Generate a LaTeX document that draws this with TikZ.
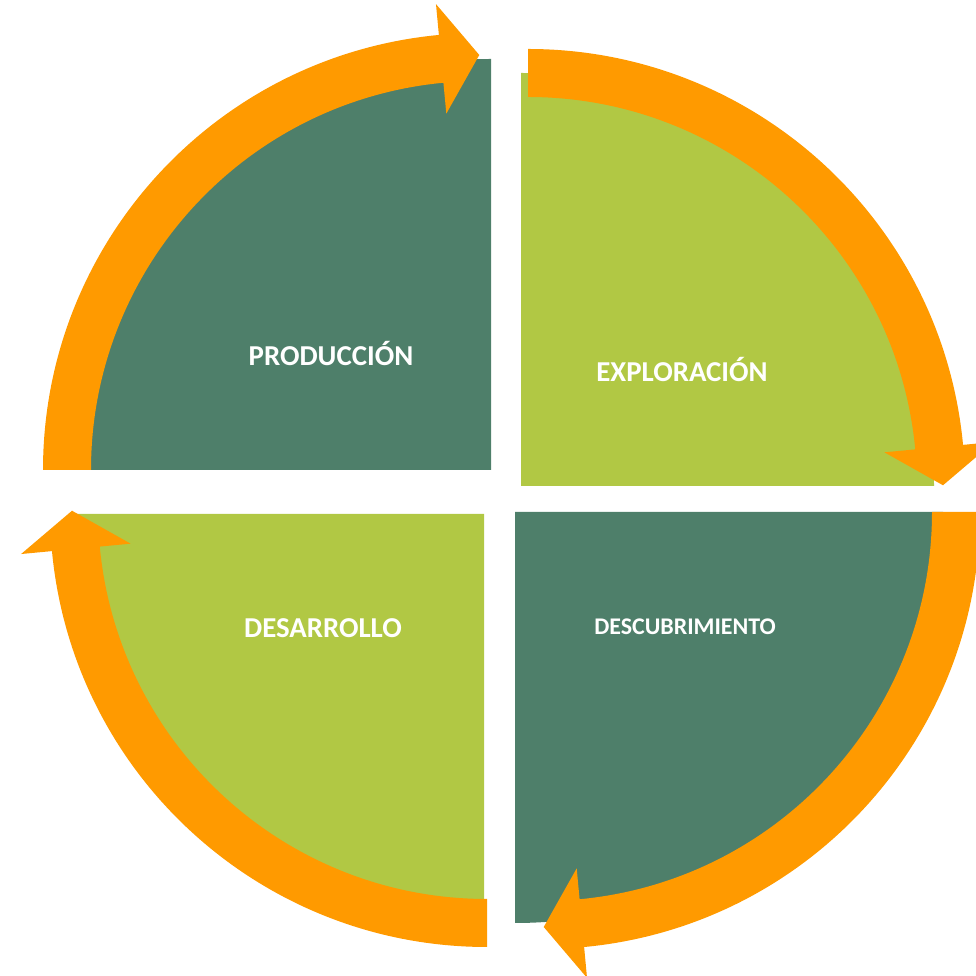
\documentclass[tikz,border=0pt]{standalone}
\usepackage{fontspec}
\setmainfont{Carlito}
\definecolor{darkleaf}{HTML}{4E7F6A}
\definecolor{lightleaf}{HTML}{B1C844}
\definecolor{cycorange}{HTML}{FF9A00}
\tikzset{
  quarter/.style={draw=none},
  loop/.style={fill=cycorange, draw=none},
  stage/.style={
    text=white,
    font=\bfseries\fontsize{8.2}{10}\selectfont
  }
}

\begin{document}
\begin{tikzpicture}[x=0.01cm, y=0.01cm]
  \useasboundingbox (0,0) rectangle (976,976);
  \clip (0,0) rectangle (976,976);

  % four quarters
  \fill[quarter, darkleaf]  (491,506) -- ++(180:411) arc[start angle=180, end angle=90, radius=411] -- cycle;
  \fill[quarter, lightleaf] (521,490) -- ++(90:413) arc[start angle=90, end angle=0, radius=413] -- cycle;
  \fill[quarter, darkleaf]  (515,464) -- ++(0:428) arc[start angle=0, end angle=-90, x radius=428, y radius=411] -- cycle;
  \fill[quarter, lightleaf] (484,462) -- ++(270:407) arc[start angle=270, end angle=180, radius=407] -- cycle;

  % orange arrows round the cycle
  \foreach \cx/\cy/\a in {480/506/180, 528/490/90, 543/464/0, 487/466/270}{
    \pgfmathsetmacro\b{\a-84.6}
    \pgfmathsetmacro\t{\a-89.9}
    \begin{scope}[shift={(\cx,\cy)}]
      \fill[loop] (\a:437) arc[start angle=\a, end angle=\b, radius=437]
        -- (\b:468) -- (\t:415) -- (\b:358) -- (\b:389)
        arc[start angle=\b, end angle=\a, radius=389] -- cycle;
    \end{scope}
  }

  \node[stage] (prod) at (331,622) {PRODUCCIÓN};
  \node[stage] (expl) at (682,607) {EXPLORACIÓN};
  \node[stage, font=\bfseries\fontsize{6.8}{8}\selectfont] (desc) at (685,349) {DESCUBRIMIENTO};
  \node[stage] (desa) at (323,348) {DESARROLLO};
\end{tikzpicture}
\end{document}
